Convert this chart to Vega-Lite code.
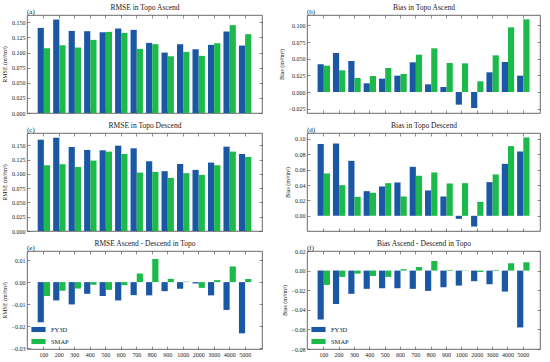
{
  "$schema": "https://vega.github.io/schema/vega-lite/v6.json",
  "padding": {"left": 0, "top": 3, "right": 4, "bottom": 2},
  "background": "white",
  "config": {
    "font": "Liberation Serif",
    "view": {"stroke": "#444", "strokeWidth": 0.8},
    "axis": {"domain": false, "grid": false, "tickColor": "#444", "tickSize": -3, "tickWidth": 0.6, "labelFontSize": 6, "labelColor": "#222", "titleFontSize": 6, "titleFontWeight": "normal", "titleColor": "#222", "labelPadding": 5},
    "title": {"fontSize": 7.5, "fontWeight": "normal", "color": "#222"},
    "legend": {"labelFontSize": 6.5, "labelColor": "#222"},
    "bar": {"stroke": null}
  },
  "data": {"values": [
    {"p":"a","t":"100","s":"FY3D","v":0.1407},{"p":"a","t":"200","s":"FY3D","v":0.1545},{"p":"a","t":"300","s":"FY3D","v":0.1357},{"p":"a","t":"400","s":"FY3D","v":0.1352},{"p":"a","t":"500","s":"FY3D","v":0.1335},{"p":"a","t":"600","s":"FY3D","v":0.1396},{"p":"a","t":"700","s":"FY3D","v":0.1374},{"p":"a","t":"800","s":"FY3D","v":0.1159},{"p":"a","t":"900","s":"FY3D","v":0.0999},{"p":"a","t":"1000","s":"FY3D","v":0.1137},{"p":"a","t":"2000","s":"FY3D","v":0.1054},{"p":"a","t":"3000","s":"FY3D","v":0.1126},{"p":"a","t":"4000","s":"FY3D","v":0.1347},{"p":"a","t":"5000","s":"FY3D","v":0.1115},
    {"p":"a","t":"100","s":"SMAP","v":0.1071},{"p":"a","t":"200","s":"SMAP","v":0.1120},{"p":"a","t":"300","s":"SMAP","v":0.1082},{"p":"a","t":"400","s":"SMAP","v":0.1209},{"p":"a","t":"500","s":"SMAP","v":0.1341},{"p":"a","t":"600","s":"SMAP","v":0.1325},{"p":"a","t":"700","s":"SMAP","v":0.1060},{"p":"a","t":"800","s":"SMAP","v":0.1137},{"p":"a","t":"900","s":"SMAP","v":0.0938},{"p":"a","t":"1000","s":"SMAP","v":0.1010},{"p":"a","t":"2000","s":"SMAP","v":0.0944},{"p":"a","t":"3000","s":"SMAP","v":0.1153},{"p":"a","t":"4000","s":"SMAP","v":0.1452},{"p":"a","t":"5000","s":"SMAP","v":0.1303},
    {"p":"b","t":"100","s":"FY3D","v":0.0415},{"p":"b","t":"200","s":"FY3D","v":0.0585},{"p":"b","t":"300","s":"FY3D","v":0.0465},{"p":"b","t":"400","s":"FY3D","v":0.013},{"p":"b","t":"500","s":"FY3D","v":0.020},{"p":"b","t":"600","s":"FY3D","v":0.0245},{"p":"b","t":"700","s":"FY3D","v":0.0445},{"p":"b","t":"800","s":"FY3D","v":0.0115},{"p":"b","t":"900","s":"FY3D","v":0.0075},{"p":"b","t":"1000","s":"FY3D","v":-0.019},{"p":"b","t":"2000","s":"FY3D","v":-0.024},{"p":"b","t":"3000","s":"FY3D","v":0.0295},{"p":"b","t":"4000","s":"FY3D","v":0.045},{"p":"b","t":"5000","s":"FY3D","v":0.0245},
    {"p":"b","t":"100","s":"SMAP","v":0.0395},{"p":"b","t":"200","s":"SMAP","v":0.0325},{"p":"b","t":"300","s":"SMAP","v":0.021},{"p":"b","t":"400","s":"SMAP","v":0.024},{"p":"b","t":"500","s":"SMAP","v":0.036},{"p":"b","t":"600","s":"SMAP","v":0.027},{"p":"b","t":"700","s":"SMAP","v":0.056},{"p":"b","t":"800","s":"SMAP","v":0.0655},{"p":"b","t":"900","s":"SMAP","v":0.0435},{"p":"b","t":"1000","s":"SMAP","v":0.043},{"p":"b","t":"2000","s":"SMAP","v":0.016},{"p":"b","t":"3000","s":"SMAP","v":0.055},{"p":"b","t":"4000","s":"SMAP","v":0.097},{"p":"b","t":"5000","s":"SMAP","v":0.109},
    {"p":"c","t":"100","s":"FY3D","v":0.1599},{"p":"c","t":"200","s":"FY3D","v":0.1634},{"p":"c","t":"300","s":"FY3D","v":0.1471},{"p":"c","t":"400","s":"FY3D","v":0.1419},{"p":"c","t":"500","s":"FY3D","v":0.1413},{"p":"c","t":"600","s":"FY3D","v":0.1494},{"p":"c","t":"700","s":"FY3D","v":0.1448},{"p":"c","t":"800","s":"FY3D","v":0.1221},{"p":"c","t":"900","s":"FY3D","v":0.1047},{"p":"c","t":"1000","s":"FY3D","v":0.1174},{"p":"c","t":"2000","s":"FY3D","v":0.1070},{"p":"c","t":"3000","s":"FY3D","v":0.1198},{"p":"c","t":"4000","s":"FY3D","v":0.1477},{"p":"c","t":"5000","s":"FY3D","v":0.1349},
    {"p":"c","t":"100","s":"SMAP","v":0.1151},{"p":"c","t":"200","s":"SMAP","v":0.1169},{"p":"c","t":"300","s":"SMAP","v":0.1122},{"p":"c","t":"400","s":"SMAP","v":0.1233},{"p":"c","t":"500","s":"SMAP","v":0.1390},{"p":"c","t":"600","s":"SMAP","v":0.1349},{"p":"c","t":"700","s":"SMAP","v":0.1023},{"p":"c","t":"800","s":"SMAP","v":0.1035},{"p":"c","t":"900","s":"SMAP","v":0.0930},{"p":"c","t":"1000","s":"SMAP","v":0.1012},{"p":"c","t":"2000","s":"SMAP","v":0.0983},{"p":"c","t":"3000","s":"SMAP","v":0.1151},{"p":"c","t":"4000","s":"SMAP","v":0.1390},{"p":"c","t":"5000","s":"SMAP","v":0.1297},
    {"p":"d","t":"100","s":"FY3D","v":0.0931},{"p":"d","t":"200","s":"FY3D","v":0.094},{"p":"d","t":"300","s":"FY3D","v":0.0714},{"p":"d","t":"400","s":"FY3D","v":0.032},{"p":"d","t":"500","s":"FY3D","v":0.0381},{"p":"d","t":"600","s":"FY3D","v":0.0433},{"p":"d","t":"700","s":"FY3D","v":0.0636},{"p":"d","t":"800","s":"FY3D","v":0.0329},{"p":"d","t":"900","s":"FY3D","v":0.0251},{"p":"d","t":"1000","s":"FY3D","v":-0.0039},{"p":"d","t":"2000","s":"FY3D","v":-0.0139},{"p":"d","t":"3000","s":"FY3D","v":0.0437},{"p":"d","t":"4000","s":"FY3D","v":0.0675},{"p":"d","t":"5000","s":"FY3D","v":0.0835},
    {"p":"d","t":"100","s":"SMAP","v":0.055},{"p":"d","t":"200","s":"SMAP","v":0.0398},{"p":"d","t":"300","s":"SMAP","v":0.0247},{"p":"d","t":"400","s":"SMAP","v":0.0299},{"p":"d","t":"500","s":"SMAP","v":0.0424},{"p":"d","t":"600","s":"SMAP","v":0.0251},{"p":"d","t":"700","s":"SMAP","v":0.052},{"p":"d","t":"800","s":"SMAP","v":0.0563},{"p":"d","t":"900","s":"SMAP","v":0.042},{"p":"d","t":"1000","s":"SMAP","v":0.0424},{"p":"d","t":"2000","s":"SMAP","v":0.0182},{"p":"d","t":"3000","s":"SMAP","v":0.0537},{"p":"d","t":"4000","s":"SMAP","v":0.0905},{"p":"d","t":"5000","s":"SMAP","v":0.1017},
    {"p":"e","t":"100","s":"FY3D","v":-0.0182},{"p":"e","t":"200","s":"FY3D","v":-0.0083},{"p":"e","t":"300","s":"FY3D","v":-0.0101},{"p":"e","t":"400","s":"FY3D","v":-0.0053},{"p":"e","t":"500","s":"FY3D","v":-0.0063},{"p":"e","t":"600","s":"FY3D","v":-0.0083},{"p":"e","t":"700","s":"FY3D","v":-0.0059},{"p":"e","t":"800","s":"FY3D","v":-0.006},{"p":"e","t":"900","s":"FY3D","v":-0.0041},{"p":"e","t":"1000","s":"FY3D","v":-0.003},{"p":"e","t":"2000","s":"FY3D","v":-0.0006},{"p":"e","t":"3000","s":"FY3D","v":-0.006},{"p":"e","t":"4000","s":"FY3D","v":-0.0126},{"p":"e","t":"5000","s":"FY3D","v":-0.0232},
    {"p":"e","t":"100","s":"SMAP","v":-0.0063},{"p":"e","t":"200","s":"SMAP","v":-0.0039},{"p":"e","t":"300","s":"SMAP","v":-0.0029},{"p":"e","t":"400","s":"SMAP","v":-0.0012},{"p":"e","t":"500","s":"SMAP","v":-0.0035},{"p":"e","t":"600","s":"SMAP","v":-0.0014},{"p":"e","t":"700","s":"SMAP","v":0.0039},{"p":"e","t":"800","s":"SMAP","v":0.0105},{"p":"e","t":"900","s":"SMAP","v":0.0015},{"p":"e","t":"1000","s":"SMAP","v":0.0002},{"p":"e","t":"2000","s":"SMAP","v":-0.0026},{"p":"e","t":"3000","s":"SMAP","v":0.0009},{"p":"e","t":"4000","s":"SMAP","v":0.0071},{"p":"e","t":"5000","s":"SMAP","v":0.0014},
    {"p":"f","t":"100","s":"FY3D","v":-0.0498},{"p":"f","t":"200","s":"FY3D","v":-0.0342},{"p":"f","t":"300","s":"FY3D","v":-0.0237},{"p":"f","t":"400","s":"FY3D","v":-0.0186},{"p":"f","t":"500","s":"FY3D","v":-0.018},{"p":"f","t":"600","s":"FY3D","v":-0.018},{"p":"f","t":"700","s":"FY3D","v":-0.0186},{"p":"f","t":"800","s":"FY3D","v":-0.0207},{"p":"f","t":"900","s":"FY3D","v":-0.017},{"p":"f","t":"1000","s":"FY3D","v":-0.0153},{"p":"f","t":"2000","s":"FY3D","v":-0.0108},{"p":"f","t":"3000","s":"FY3D","v":-0.0139},{"p":"f","t":"4000","s":"FY3D","v":-0.0214},{"p":"f","t":"5000","s":"FY3D","v":-0.058},
    {"p":"f","t":"100","s":"SMAP","v":-0.0146},{"p":"f","t":"200","s":"SMAP","v":-0.0064},{"p":"f","t":"300","s":"SMAP","v":-0.0031},{"p":"f","t":"400","s":"SMAP","v":-0.0054},{"p":"f","t":"500","s":"SMAP","v":-0.0064},{"p":"f","t":"600","s":"SMAP","v":0.0014},{"p":"f","t":"700","s":"SMAP","v":0.0037},{"p":"f","t":"800","s":"SMAP","v":0.0098},{"p":"f","t":"900","s":"SMAP","v":0.0007},{"p":"f","t":"1000","s":"SMAP","v":0.0003},{"p":"f","t":"2000","s":"SMAP","v":-0.0014},{"p":"f","t":"3000","s":"SMAP","v":0.0007},{"p":"f","t":"4000","s":"SMAP","v":0.0075},{"p":"f","t":"5000","s":"SMAP","v":0.0085}
  ]},
  "columns": 2,
  "spacing": {"column": 14, "row": 4},
  "resolve": {"legend": {"color": "independent"}},
  "concat": [
    {
      "width": 235, "height": 98,
      "transform": [{"filter": "datum.p === 'a'"}],
      "title": {"text": "(a)", "anchor": "start", "frame": "group", "offset": -11, "fontSize": 7},
      "layer": [
        {"mark": "bar", "encoding": {
          "x": {"field": "t", "type": "nominal", "sort": ["100","200","300","400","500","600","700","800","900","1000","2000","3000","4000","5000"], "scale": {"paddingInner": 0.2, "paddingOuter": 0.69}, "axis": {"orient": "bottom", "labels": false, "title": null}},
          "xOffset": {"field": "s", "sort": ["FY3D","SMAP"]},
          "y": {"field": "v", "type": "quantitative", "scale": {"domain": [0, 0.162], "nice": false, "zero": false}, "axis": {"orient": "left", "values": [0,0.025,0.05,0.075,0.1,0.125,0.15], "format": ".3f", "title": "RMSE (m³/m³)"}},
          "color": {"field": "s", "scale": {"domain": ["FY3D","SMAP"], "range": ["#1a57a4","#1bba4b"]}, "legend": null}
        }},
        {"mark": {"type": "bar", "opacity": 0}, "encoding": {
          "x": {"field": "t", "type": "nominal", "sort": ["100","200","300","400","500","600","700","800","900","1000","2000","3000","4000","5000"], "axis": {"orient": "top", "labels": false, "title": "RMSE in Topo Ascend", "titleFontSize": 7.5, "titlePadding": 3}},
          "xOffset": {"field": "s", "sort": ["FY3D","SMAP"]},
          "y": {"field": "v", "type": "quantitative", "axis": {"orient": "right", "labels": false, "title": null, "values": [0,0.025,0.05,0.075,0.1,0.125,0.15]}}
        }}
      ],
      "resolve": {"axis": {"x": "independent", "y": "independent"}}
    },
    {
      "width": 233, "height": 98,
      "transform": [{"filter": "datum.p === 'b'"}],
      "title": {"text": "(b)", "anchor": "start", "frame": "group", "offset": -11, "fontSize": 7},
      "layer": [
        {"mark": "bar", "encoding": {
          "x": {"field": "t", "type": "nominal", "sort": ["100","200","300","400","500","600","700","800","900","1000","2000","3000","4000","5000"], "scale": {"paddingInner": 0.2, "paddingOuter": 0.69}, "axis": {"orient": "bottom", "labels": false, "title": null}},
          "xOffset": {"field": "s", "sort": ["FY3D","SMAP"]},
          "y": {"field": "v", "type": "quantitative", "scale": {"domain": [-0.0315, 0.1155], "nice": false, "zero": false}, "axis": {"orient": "left", "values": [-0.025,0,0.025,0.05,0.075,0.1], "format": ".3f", "title": "Bias (m³/m³)"}},
          "color": {"field": "s", "scale": {"domain": ["FY3D","SMAP"], "range": ["#1a57a4","#1bba4b"]}, "legend": null}
        }},
        {"mark": {"type": "bar", "opacity": 0}, "encoding": {
          "x": {"field": "t", "type": "nominal", "sort": ["100","200","300","400","500","600","700","800","900","1000","2000","3000","4000","5000"], "axis": {"orient": "top", "labels": false, "title": "Bias in Topo Ascend", "titleFontSize": 7.5, "titlePadding": 3}},
          "xOffset": {"field": "s", "sort": ["FY3D","SMAP"]},
          "y": {"field": "v", "type": "quantitative", "axis": {"orient": "right", "labels": false, "title": null, "values": [-0.025,0,0.025,0.05,0.075,0.1]}}
        }}
      ],
      "resolve": {"axis": {"x": "independent", "y": "independent"}}
    },
    {
      "width": 235, "height": 98,
      "transform": [{"filter": "datum.p === 'c'"}],
      "title": {"text": "(c)", "anchor": "start", "frame": "group", "offset": -11, "fontSize": 7},
      "layer": [
        {"mark": "bar", "encoding": {
          "x": {"field": "t", "type": "nominal", "sort": ["100","200","300","400","500","600","700","800","900","1000","2000","3000","4000","5000"], "scale": {"paddingInner": 0.2, "paddingOuter": 0.69}, "axis": {"orient": "bottom", "labels": false, "title": null}},
          "xOffset": {"field": "s", "sort": ["FY3D","SMAP"]},
          "y": {"field": "v", "type": "quantitative", "scale": {"domain": [0, 0.1716], "nice": false, "zero": false}, "axis": {"orient": "left", "values": [0,0.025,0.05,0.075,0.1,0.125,0.15], "format": ".3f", "title": "RMSE (m³/m³)"}},
          "color": {"field": "s", "scale": {"domain": ["FY3D","SMAP"], "range": ["#1a57a4","#1bba4b"]}, "legend": null}
        }},
        {"mark": {"type": "bar", "opacity": 0}, "encoding": {
          "x": {"field": "t", "type": "nominal", "sort": ["100","200","300","400","500","600","700","800","900","1000","2000","3000","4000","5000"], "axis": {"orient": "top", "labels": false, "title": "RMSE in Topo Descend", "titleFontSize": 7.5, "titlePadding": 3}},
          "xOffset": {"field": "s", "sort": ["FY3D","SMAP"]},
          "y": {"field": "v", "type": "quantitative", "axis": {"orient": "right", "labels": false, "title": null, "values": [0,0.025,0.05,0.075,0.1,0.125,0.15]}}
        }}
      ],
      "resolve": {"axis": {"x": "independent", "y": "independent"}}
    },
    {
      "width": 233, "height": 98,
      "transform": [{"filter": "datum.p === 'd'"}],
      "title": {"text": "(d)", "anchor": "start", "frame": "group", "offset": -11, "fontSize": 7},
      "layer": [
        {"mark": "bar", "encoding": {
          "x": {"field": "t", "type": "nominal", "sort": ["100","200","300","400","500","600","700","800","900","1000","2000","3000","4000","5000"], "scale": {"paddingInner": 0.2, "paddingOuter": 0.69}, "axis": {"orient": "bottom", "labels": false, "title": null}},
          "xOffset": {"field": "s", "sort": ["FY3D","SMAP"]},
          "y": {"field": "v", "type": "quantitative", "scale": {"domain": [-0.0197, 0.1075], "nice": false, "zero": false}, "axis": {"orient": "left", "values": [0,0.02,0.04,0.06,0.08,0.1], "format": ".2f", "title": "Bias (m³/m³)"}},
          "color": {"field": "s", "scale": {"domain": ["FY3D","SMAP"], "range": ["#1a57a4","#1bba4b"]}, "legend": null}
        }},
        {"mark": {"type": "bar", "opacity": 0}, "encoding": {
          "x": {"field": "t", "type": "nominal", "sort": ["100","200","300","400","500","600","700","800","900","1000","2000","3000","4000","5000"], "axis": {"orient": "top", "labels": false, "title": "Bias in Topo Descend", "titleFontSize": 7.5, "titlePadding": 3}},
          "xOffset": {"field": "s", "sort": ["FY3D","SMAP"]},
          "y": {"field": "v", "type": "quantitative", "axis": {"orient": "right", "labels": false, "title": null, "values": [0,0.02,0.04,0.06,0.08,0.1]}}
        }}
      ],
      "resolve": {"axis": {"x": "independent", "y": "independent"}}
    },
    {
      "width": 235, "height": 98,
      "transform": [{"filter": "datum.p === 'e'"}],
      "title": {"text": "(e)", "anchor": "start", "frame": "group", "offset": -11, "fontSize": 7},
      "layer": [
        {"mark": "bar", "encoding": {
          "x": {"field": "t", "type": "nominal", "sort": ["100","200","300","400","500","600","700","800","900","1000","2000","3000","4000","5000"], "scale": {"paddingInner": 0.2, "paddingOuter": 0.69}, "axis": {"orient": "bottom", "labelAngle": 0, "title": null}},
          "xOffset": {"field": "s", "sort": ["FY3D","SMAP"]},
          "y": {"field": "v", "type": "quantitative", "scale": {"domain": [-0.0303, 0.0141], "nice": false, "zero": false}, "axis": {"orient": "left", "values": [-0.03,-0.02,-0.01,0,0.01], "format": ".2f", "title": "RMSE (m³/m³)"}},
          "color": {"field": "s", "title": null, "scale": {"domain": ["FY3D","SMAP"], "range": ["#1a57a4","#1bba4b"]}, "legend": {"orient": "bottom-left", "offset": 4, "symbolType": "M-1,-0.36H1V0.36H-1Z", "symbolSize": 200, "symbolStrokeWidth": 0, "rowPadding": 1, "labelOffset": 5}}
        }},
        {"mark": {"type": "bar", "opacity": 0}, "encoding": {
          "x": {"field": "t", "type": "nominal", "sort": ["100","200","300","400","500","600","700","800","900","1000","2000","3000","4000","5000"], "axis": {"orient": "top", "labels": false, "title": "RMSE Ascend - Descend in Topo", "titleFontSize": 7.5, "titlePadding": 3}},
          "xOffset": {"field": "s", "sort": ["FY3D","SMAP"]},
          "y": {"field": "v", "type": "quantitative", "axis": {"orient": "right", "labels": false, "title": null, "values": [-0.03,-0.02,-0.01,0,0.01]}}
        }}
      ],
      "resolve": {"axis": {"x": "independent", "y": "independent"}}
    },
    {
      "width": 233, "height": 98,
      "transform": [{"filter": "datum.p === 'f'"}],
      "title": {"text": "(f)", "anchor": "start", "frame": "group", "offset": -11, "fontSize": 7},
      "layer": [
        {"mark": "bar", "encoding": {
          "x": {"field": "t", "type": "nominal", "sort": ["100","200","300","400","500","600","700","800","900","1000","2000","3000","4000","5000"], "scale": {"paddingInner": 0.2, "paddingOuter": 0.69}, "axis": {"orient": "bottom", "labelAngle": 0, "title": null}},
          "xOffset": {"field": "s", "sort": ["FY3D","SMAP"]},
          "y": {"field": "v", "type": "quantitative", "scale": {"domain": [-0.08, 0.02], "nice": false, "zero": false}, "axis": {"orient": "left", "values": [-0.08,-0.06,-0.04,-0.02,0,0.02], "format": ".2f", "title": "Bias (m³/m³)"}},
          "color": {"field": "s", "title": null, "scale": {"domain": ["FY3D","SMAP"], "range": ["#1a57a4","#1bba4b"]}, "legend": {"orient": "bottom-left", "offset": 4, "symbolType": "M-1,-0.36H1V0.36H-1Z", "symbolSize": 200, "symbolStrokeWidth": 0, "rowPadding": 1, "labelOffset": 5}}
        }},
        {"mark": {"type": "bar", "opacity": 0}, "encoding": {
          "x": {"field": "t", "type": "nominal", "sort": ["100","200","300","400","500","600","700","800","900","1000","2000","3000","4000","5000"], "axis": {"orient": "top", "labels": false, "title": "Bias Ascend - Descend in Topo", "titleFontSize": 7.5, "titlePadding": 3}},
          "xOffset": {"field": "s", "sort": ["FY3D","SMAP"]},
          "y": {"field": "v", "type": "quantitative", "axis": {"orient": "right", "labels": false, "title": null, "values": [-0.08,-0.06,-0.04,-0.02,0,0.02]}}
        }}
      ],
      "resolve": {"axis": {"x": "independent", "y": "independent"}}
    }
  ]
}
